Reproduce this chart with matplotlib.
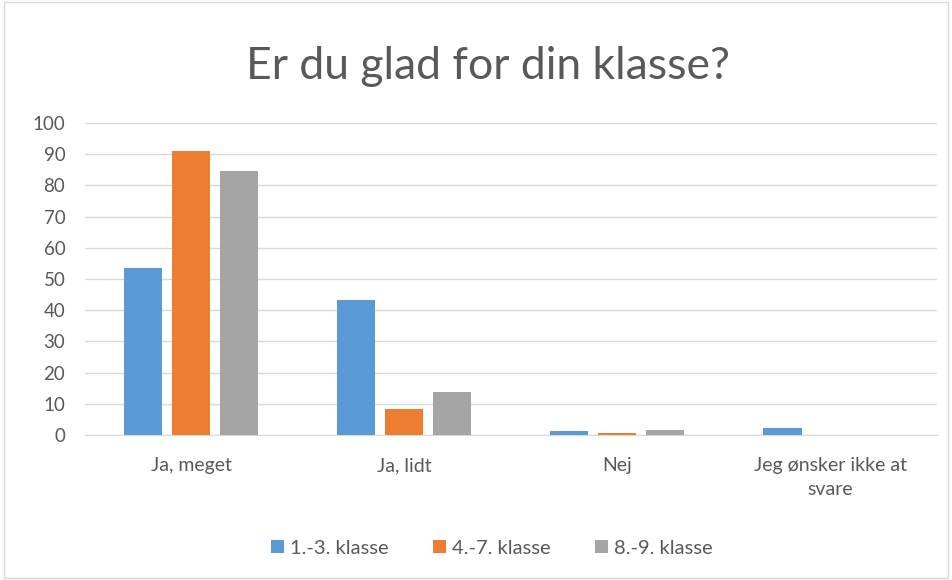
import numpy as np
import matplotlib.pyplot as plt
from matplotlib.patches import Rectangle

kategorier = ['Ja, meget', 'Ja, lidt', 'Nej', 'Jeg ønsker ikke at\nsvare']
serier = ['1.-3. klasse', '4.-7. klasse', '8.-9. klasse']
v_1_3 = [53.5, 43.2, 1.2, 2.2]
v_4_7 = [91.0, 8.3, 0.5, 0.0]
v_8_9 = [84.5, 13.8, 1.6, 0.0]
farver = ['#5B9BD5', '#ED7D31', '#A5A5A5']

plt.rcParams['font.family'] = ['Lato', 'DejaVu Sans']
tekst = '#595959'

fig = plt.figure(figsize=(9.52, 5.8), dpi=100)
ax = fig.add_axes([0.089, 0.25, 0.895, 0.538])

x = np.arange(len(kategorier))
bredde = 0.18
afstand = 0.225
for i, (navn, vals) in enumerate(zip(serier, [v_1_3, v_4_7, v_8_9])):
    ax.bar(x + (i - 1) * afstand, vals, bredde, color=farver[i], label=navn, zorder=3)

ax.set_xlim(-0.5, len(kategorier) - 0.5)
ax.set_ylim(0, 100)
ax.set_yticks(range(0, 101, 10))
ax.set_xticks(x)
ax.set_xticklabels(kategorier, linespacing=1.5)
ax.tick_params(axis='both', length=0, labelsize=14, colors=tekst)
ax.tick_params(axis='x', pad=16)
ax.tick_params(axis='y', pad=14, labelsize=13.5)
ax.grid(axis='y', color='#D9D9D9', linewidth=1, zorder=0)
for s in ['top', 'right', 'left']:
    ax.spines[s].set_visible(False)
ax.spines['bottom'].set_color('#D9D9D9')

fig.suptitle('Er du glad for din klasse?', x=0.513, y=0.92, fontsize=32, color=tekst)
fig.legend(loc='center', bbox_to_anchor=(0.517, 0.055), ncol=3, frameon=False,
           fontsize=14.5, labelcolor=tekst, handlelength=0.65, handleheight=0.65,
           handletextpad=0.3, columnspacing=2.2)

fig.patches.append(Rectangle((0.004, 0.004), 0.992, 0.992, transform=fig.transFigure,
                             fill=False, edgecolor='#D9D9D9', linewidth=1))

fig.savefig('out.png', dpi=100)
